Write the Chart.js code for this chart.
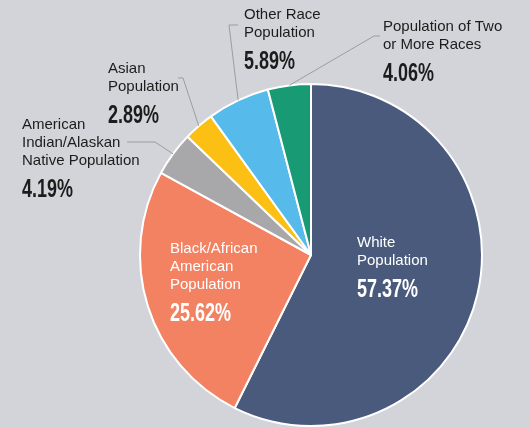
<!DOCTYPE html>
<html>
<head>
<meta charset="utf-8">
<script src="https://cdn.jsdelivr.net/npm/chart.js@4.4.0/dist/chart.umd.min.js"></script>
<style>
  html, body { margin: 0; padding: 0; background: #d3d4da; }
  #wrap { width: 529px; height: 427px; position: relative; }
</style>
</head>
<body>
<div id="wrap"><canvas id="pie" width="529" height="427"></canvas></div>
<script>
// --- data ---
const categories = [
  "White Population",
  "Black/African American Population",
  "American Indian/Alaskan Native Population",
  "Asian Population",
  "Other Race Population",
  "Population of Two or More Races"
];
const shares = [57.37, 25.62, 4.19, 2.89, 5.89, 4.06];
const sliceColors = ["#4a5a7c", "#f38263", "#a8a7aa", "#fcc014", "#56bbea", "#189b74"];

// label text split over lines
const labelLines = [
  ["White", "Population"],
  ["Black/African", "American", "Population"],
  ["American", "Indian/Alaskan", "Native Population"],
  ["Asian", "Population"],
  ["Other Race", "Population"],
  ["Population of Two", "or More Races"]
];

// --- label layout (text anchor x, first baseline y, leader elbow) ---
const labelLayout = [
  { x: 357, y: 247, color: "#ffffff", inside: true },
  { x: 170, y: 253, color: "#ffffff", inside: true },
  { x: 22,  y: 129, color: "#1c1c1c", elbow: [155, 142], end: [127, 142] },
  { x: 108, y: 73,  color: "#1c1c1c", elbow: [183, 78],  end: [178, 78] },
  { x: 244, y: 19,  color: "#1c1c1c", elbow: [229, 25],  end: [238, 25] },
  { x: 383, y: 31,  color: "#1c1c1c", elbow: [374, 36],  end: [380, 36] }
];

const pieLabels = {
  id: "pieLabels",
  afterDatasetsDraw(chart) {
    const ctx = chart.ctx;
    const arcs = chart.getDatasetMeta(0).data;
    ctx.save();
    arcs.forEach((arc, i) => {
      const lay = labelLayout[i];
      // leader line
      if (lay.elbow) {
        const mid = (arc.startAngle + arc.endAngle) / 2;
        const sx = arc.x + Math.cos(mid) * arc.outerRadius;
        const sy = arc.y + Math.sin(mid) * arc.outerRadius;
        ctx.strokeStyle = "#9c9c9c";
        ctx.lineWidth = 1;
        ctx.beginPath();
        ctx.moveTo(sx, sy);
        ctx.lineTo(lay.elbow[0], lay.elbow[1]);
        ctx.lineTo(lay.end[0], lay.end[1]);
        ctx.stroke();
      }
      // name lines
      ctx.fillStyle = lay.color;
      ctx.textAlign = "left";
      ctx.textBaseline = "alphabetic";
      ctx.font = "15px 'Liberation Sans', Arial, sans-serif";
      const lines = labelLines[i];
      lines.forEach((t, k) => ctx.fillText(t, lay.x, lay.y + k * 18));
      // percent, condensed bold
      const py = lay.y + (lines.length - 1) * 18 + 32;
      ctx.save();
      ctx.translate(lay.x, py);
      ctx.scale(0.72, 1);
      ctx.font = "bold 25px 'Liberation Sans', Arial, sans-serif";
      ctx.fillText(shares[i].toFixed(2) + "%", 0, 0);
      ctx.restore();
    });
    ctx.restore();
  }
};

new Chart(document.getElementById("pie"), {
  type: "pie",
  data: {
    labels: categories,
    datasets: [{
      data: shares,
      backgroundColor: sliceColors,
      borderColor: "#ffffff",
      borderWidth: 2
    }]
  },
  options: {
    responsive: false,
    animation: false,
    layout: { padding: { left: 139, right: 46, top: 83, bottom: 0 } },
    plugins: { legend: { display: false }, tooltip: { enabled: false } }
  },
  plugins: [pieLabels]
});
</script>
</body>
</html>
